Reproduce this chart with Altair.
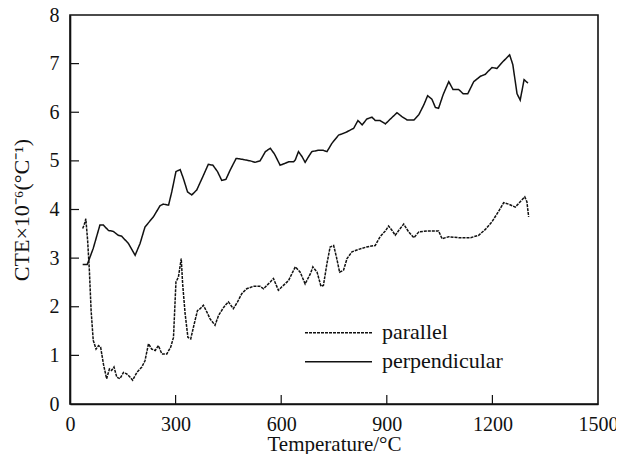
import altair as alt
import pandas as pd

# ---- data ----
perp_T = [36,49,66,85,95,109,123,137,147,166,185,199,213,237,256,265,280,289,301,313,
          322,334,346,360,377,393,406,419,431,443,455,472,483,498,512,526,540,555,569,581,
          597,611,621,635,640,649,659,668,678,687,706,718,730,744,763,782,806,818,830,843,
          858,867,881,896,910,929,943,958,977,991,1005,1016,1028,1038,1047,1060,1076,1088,1104,1117,
          1130,1147,1166,1180,1189,1199,1213,1227,1249,1258,1270,1279,1290,1301]
perp_v = [2.87,2.87,3.2,3.68,3.68,3.57,3.55,3.47,3.45,3.3,3.06,3.3,3.64,3.85,4.08,4.11,4.09,4.36,4.78,4.82,
          4.64,4.36,4.3,4.4,4.67,4.93,4.91,4.78,4.6,4.62,4.81,5.05,5.04,5.02,5.0,4.97,5.0,5.19,5.26,5.14,
          4.91,4.95,4.98,4.98,5.02,5.19,5.09,4.97,5.09,5.19,5.22,5.22,5.19,5.36,5.53,5.58,5.67,5.83,5.74,5.86,
          5.9,5.83,5.83,5.76,5.86,5.99,5.91,5.84,5.84,5.95,6.15,6.34,6.27,6.1,6.08,6.36,6.63,6.47,6.47,6.38,
          6.38,6.63,6.74,6.78,6.85,6.92,6.9,7.02,7.18,6.98,6.38,6.25,6.67,6.6]

par_T = [36,41,45,50,55,60,66,74,81,87,95,104,112,118,125,133,142,152,161,171,
         178,190,204,213,223,232,242,251,261,275,286,294,301,308,316,320,327,335,343,353,
         362,370,379,389,398,412,422,434,441,450,464,476,488,502,521,540,550,569,578,592,
         602,621,640,654,668,683,690,702,713,720,730,739,749,757,766,777,787,801,820,843,
         867,881,896,905,915,924,934,948,962,977,991,1015,1047,1057,1076,1104,1138,1161,1180,1199,
         1220,1232,1246,1265,1279,1292,1298,1303]
par_v = [3.61,3.7,3.81,3.37,2.75,1.92,1.31,1.13,1.2,1.17,0.82,0.52,0.72,0.69,0.76,0.55,0.52,0.65,0.62,0.55,
         0.49,0.65,0.76,0.89,1.24,1.13,1.1,1.2,1.03,1.03,1.17,1.37,2.51,2.61,2.99,2.47,1.86,1.37,1.34,1.65,
         1.92,1.96,2.03,1.89,1.75,1.62,1.82,1.96,2.03,2.1,1.96,2.1,2.27,2.37,2.42,2.42,2.37,2.51,2.58,2.34,
         2.41,2.54,2.82,2.71,2.47,2.68,2.82,2.71,2.42,2.44,2.89,3.23,3.26,3.02,2.71,2.75,2.99,3.13,3.18,3.23,
         3.26,3.44,3.56,3.66,3.57,3.47,3.57,3.7,3.54,3.42,3.54,3.56,3.56,3.4,3.44,3.42,3.42,3.47,3.59,3.75,
         3.99,4.14,4.11,4.05,4.16,4.26,4.16,3.85]

series_names = ["parallel", "perpendicular"]
x_tick_values = [0, 300, 600, 900, 1200, 1500]
x_inner_ticks = [300, 600, 900, 1200]
y_tick_values = [0, 1, 2, 3, 4, 5, 6, 7, 8]
y_inner_ticks = [1, 2, 3, 4, 5, 6, 7]

rows = []
for i, (t, v) in enumerate(zip(par_T, par_v)):
    rows.append({"T": t, "v": v, "series": series_names[0], "order": i})
for i, (t, v) in enumerate(zip(perp_T, perp_v)):
    rows.append({"T": t, "v": v, "series": series_names[1], "order": i})
df = pd.DataFrame(rows)

FONT = "Liberation Serif"
INK = "#111111"
W, H = 528, 389
DASHES = {"parallel": [3, 1], "perpendicular": [1, 0]}

xscale = alt.Scale(domain=[0, 1500], nice=False, zero=False)
yscale = alt.Scale(domain=[0, 8], nice=False, zero=False)

lines = alt.Chart(df).mark_line(strokeWidth=1.5, color=INK).encode(
    x=alt.X("T:Q", scale=xscale,
            axis=alt.Axis(title="Temperature/°C", values=x_tick_values, format="d",
                          grid=False, ticks=False, labelPadding=10,
                          titleBaseline="alphabetic", titleY=46.5,
                          titleFontSize=21, labelFlush=False)),
    y=alt.Y("v:Q", scale=yscale,
            axis=alt.Axis(title="CTE×10⁻⁶(°C⁻¹)", values=y_tick_values, format="d",
                          grid=False, ticks=False, labelPadding=11, titlePadding=16,
                          labelFlush=False)),
    strokeDash=alt.StrokeDash("series:N",
        scale=alt.Scale(domain=series_names, range=[DASHES[s] for s in series_names]),
        legend=None),
    order="order:Q",
)

xt = alt.Chart(pd.DataFrame({"T": x_inner_ticks})).mark_rule(color=INK, strokeWidth=1.2).encode(
    x=alt.X("T:Q", scale=xscale), y=alt.value(H), y2=alt.value(H - 9))
yt = alt.Chart(pd.DataFrame({"v": y_inner_ticks})).mark_rule(color=INK, strokeWidth=1.2).encode(
    y=alt.Y("v:Q", scale=yscale), x=alt.value(0), x2=alt.value(9))

# in-plot legend (key lines + labels)
legend_layers = []
for i, name in enumerate(series_names):
    ly = 317.7 + 29 * i
    src = pd.DataFrame({"series": [name]})
    legend_layers.append(
        alt.Chart(src).mark_rule(color=INK, strokeWidth=1.5, strokeDash=DASHES[name]).encode(
            x=alt.value(235), x2=alt.value(302), y=alt.value(ly)))
    legend_layers.append(
        alt.Chart(src).mark_text(font=FONT, fontSize=22, color=INK, align="left",
                                 baseline="middle").encode(
            x=alt.value(312), y=alt.value(ly - 1), text="series:N"))

chart = alt.layer(lines, xt, yt, *legend_layers).properties(
    width=W, height=H,
    autosize=alt.AutoSizeParams(type="none"),
    padding={"left": 62, "top": 7, "right": 18, "bottom": 50},
    background="white",
).configure_view(
    stroke=INK, strokeWidth=1.6
).configure_axis(
    domainColor=INK, domainWidth=1.6,
    labelFont=FONT, labelFontSize=20, labelColor=INK,
    titleFont=FONT, titleFontSize=22, titleFontWeight="normal", titleColor=INK,
)

chart.save("out.html", embed_options={"renderer": "svg", "actions": False})
